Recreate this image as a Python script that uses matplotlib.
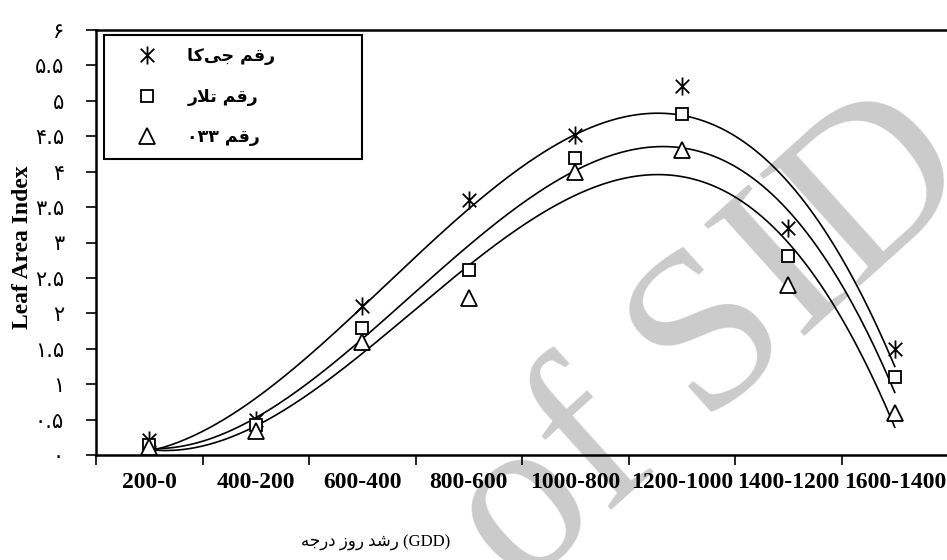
import numpy as np
import matplotlib.pyplot as plt
from matplotlib.path import Path
from matplotlib.ticker import FixedLocator, MultipleLocator, FuncFormatter

# growth stages (GDD ranges) and leaf area index of three cultivars
categories = ['200-0', '400-200', '600-400', '800-600',
              '1000-800', '1200-1000', '1400-1200', '1600-1400']
lai_jk = [0.21, 0.50, 2.10, 3.60, 4.52, 5.21, 3.20, 1.50]
lai_talar = [0.14, 0.42, 1.80, 2.61, 4.20, 4.82, 2.81, 1.10]
lai_033 = [0.11, 0.34, 1.60, 2.22, 4.00, 4.31, 2.40, 0.60]

# Persian labels, already shaped and in visual (left to right) order
label_jk = '\uFE8E\uFB90\uFBFD\uFE9F \uFEE2\uFED7\uFEAD'
label_talar = '\uFEAD\uFEFC\uFE97 \uFEE2\uFED7\uFEAD'
label_033 = '\u06F0\u06F3\u06F3 \uFEE2\uFED7\uFEAD'
xlabel_fa = '\uFEEA\uFE9F\uFEAD\uFEA9 \uFEAF\uFEED\uFEAD \uFEAA\uFEB7\uFEAD'

fa_digits = str.maketrans('0123456789', '\u06F0\u06F1\u06F2\u06F3\u06F4\u06F5\u06F6\u06F7\u06F8\u06F9')

# asterisk marker: X with a vertical bar
star = Path([(0, -1), (0, 1), (-0.75, -0.75), (0.75, 0.75), (-0.75, 0.75), (0.75, -0.75)],
            [Path.MOVETO, Path.LINETO] * 3)

fig = plt.figure(figsize=(9.47, 5.6), dpi=100)
ax = fig.add_axes([96 / 947, 105 / 560, 852 / 947, 425 / 560])
ax.patch.set_visible(False)

# grey watermark of the source site, behind the plot
fig.text(712 / 947, 1 - 345 / 560, 'of SID', fontsize=165, color='#cbcbcb',
         family='Liberation Serif', rotation=42, ha='center', va='center', zorder=-1)

x = np.arange(len(categories))
x_fit = np.linspace(x[0], x[-1], 300)

series = [
    (lai_jk, star, 13, label_jk),
    (lai_talar, 's', 9, label_talar),
    (lai_033, '^', 12, label_033),
]
for vals, marker, ms, lab in series:
    coef = np.polyfit(x, vals, 3)
    ax.plot(x_fit, np.polyval(coef, x_fit), color='black', lw=1.2, zorder=2)
    ax.plot(x, vals, linestyle='none', marker=marker, ms=ms, mfc='white',
            mec='black', mew=1.3, label=lab, zorder=3)

ax.set_xlim(-0.5, len(categories) - 0.5)
ax.set_ylim(0, 6)

# boundary ticks, labels centred on categories
ax.xaxis.set_major_locator(FixedLocator(np.arange(len(categories) + 1) - 0.5))
ax.xaxis.set_major_formatter(FuncFormatter(lambda v, p: ''))
ax.xaxis.set_minor_locator(FixedLocator(x))
ax.set_xticks(x, categories, minor=True)
ax.tick_params(axis='x', which='major', direction='out', length=7, width=1.2)
ax.tick_params(axis='x', which='minor', length=0, pad=12)
for t in ax.get_xticklabels(minor=True):
    t.set_fontfamily('Liberation Serif')
    t.set_fontweight('bold')
    t.set_fontsize(17)

ax.yaxis.set_major_locator(MultipleLocator(0.5))
ax.yaxis.set_major_formatter(FuncFormatter(lambda v, p: f'{v:g}'.translate(fa_digits)))
ax.tick_params(axis='y', direction='out', length=7, width=1.2, pad=16, labelsize=15)

for side in ['left', 'bottom', 'top']:
    ax.spines[side].set_linewidth(1.8)
ax.spines['right'].set_visible(False)

ax.set_ylabel('Leaf Area Index', fontfamily='Liberation Serif', fontweight='bold',
              fontsize=17)
ax.yaxis.set_label_coords(-0.074, 0.49)
fig.text(376 / 947, 1 - 543 / 560, xlabel_fa + ' (GDD)', ha='center', va='center',
         fontsize=12, family=['Liberation Serif', 'DejaVu Sans'])

leg = ax.legend(loc='upper left', bbox_to_anchor=(0.0094, 0.70, 0.303, 0.288),
                mode='expand', borderaxespad=0, fancybox=False, framealpha=1,
                edgecolor='black', borderpad=0.7, handlelength=3.6,
                handletextpad=0.5, labelspacing=1.3,
                prop={'family': 'DejaVu Sans', 'weight': 'bold', 'size': 12.5})
leg.get_frame().set_linewidth(1.5)

fig.savefig('out.png', dpi=100)
